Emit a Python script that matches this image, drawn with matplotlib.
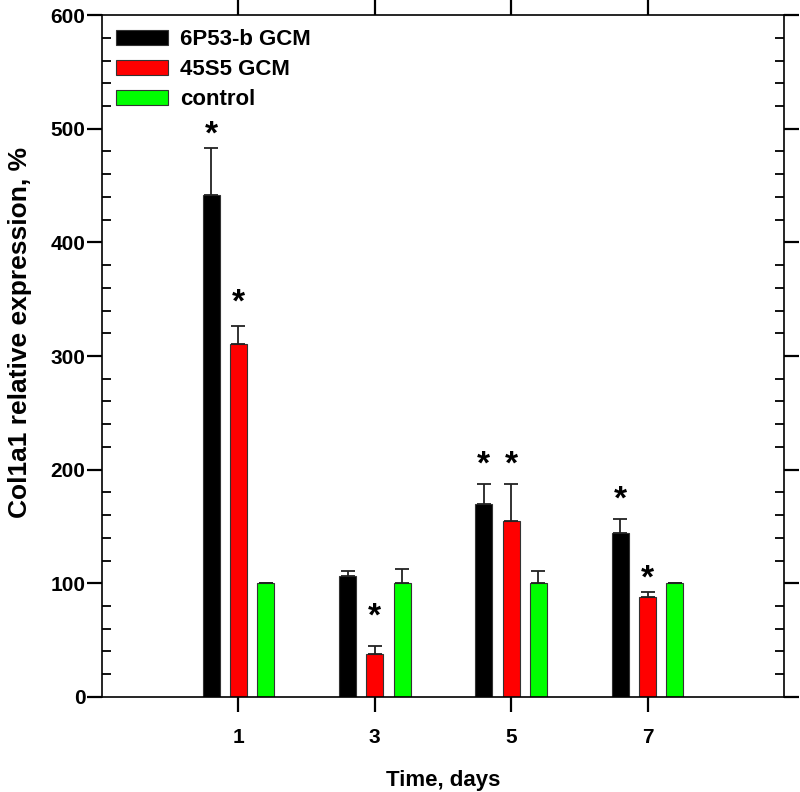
import matplotlib
matplotlib.use("Agg")
import matplotlib.pyplot as plt
import numpy as np
from matplotlib.ticker import MultipleLocator

days = [1, 3, 5, 7]
series_names = ["6P53-b GCM", "45S5 GCM", "control"]
colors = ["#000000", "#ff0000", "#00ff00"]

bioglass_6p53 = [442, 106, 170, 144]
bioglass_6p53_err = [41, 5, 17, 13]
bioglass_45s5 = [311, 38, 155, 88]
bioglass_45s5_err = [15, 7, 32, 4]
control = [100, 100, 100, 100]
control_err = [0.5, 13, 11, 0.5]

# asterisk heights (y units) and which bars carry one
star_6p53 = [494, None, 204, 173]
star_45s5 = [347, 70, 204, 104]

plt.rcParams['font.family'] = ['Liberation Sans', 'DejaVu Sans']
plt.rcParams['font.weight'] = 'bold'

fig = plt.figure(figsize=(8.0, 7.92), dpi=100)
ax = fig.add_axes([0.1275, 0.12, 0.8525, 0.861])

x = np.array(days, dtype=float)
width = 0.25
offsets = [-0.4, 0.0, 0.4]
values = [bioglass_6p53, bioglass_45s5, control]
errors = [bioglass_6p53_err, bioglass_45s5_err, control_err]
stars = [star_6p53, star_45s5, [None] * 4]

for i in range(3):
    ax.bar(x + offsets[i], values[i], width, color=colors[i], edgecolor="#333333",
           linewidth=0.8, label=series_names[i], zorder=2)
    ax.errorbar(x + offsets[i], values[i], yerr=[np.zeros(4), errors[i]], fmt="none",
                ecolor="#222222", elinewidth=1.3, capsize=5, capthick=1.3, zorder=3)
    for j in range(4):
        if stars[i][j] is not None:
            ax.text(x[j] + offsets[i], stars[i][j], "*", ha="center", va="center",
                    fontsize=24, fontweight="bold")

ax.set_xlim(-1, 9)
ax.set_ylim(0, 600)
ax.set_xticks(days)
ax.set_xticklabels([str(d) for d in days])
ax.yaxis.set_major_locator(MultipleLocator(100))
ax.yaxis.set_minor_locator(MultipleLocator(20))

for s in ax.spines.values():
    s.set_linewidth(1.2)

ax.tick_params(axis="both", which="major", direction="out", length=11, width=1.6,
               labelsize=15, top=True, right=True)
ax.tick_params(axis="x", which="major", pad=11)
ax.tick_params(axis="y", which="major", pad=1)
ax.tick_params(axis="y", which="minor", direction="in", length=6.5, width=1.3,
               left=True, right=True)

ax.set_xlabel("Time, days", fontsize=16, fontweight="bold", labelpad=17)
ax.set_ylabel("Col1a1 relative expression, %", fontsize=19, fontweight="bold")
ax.yaxis.set_label_coords(-0.102, 0.535)

ax.legend(loc="upper left", frameon=False, fontsize=16, handlelength=2.3, handleheight=0.7,
          borderaxespad=0.25, labelspacing=0.4, handletextpad=0.55)

fig.savefig("out.png", dpi=100)
